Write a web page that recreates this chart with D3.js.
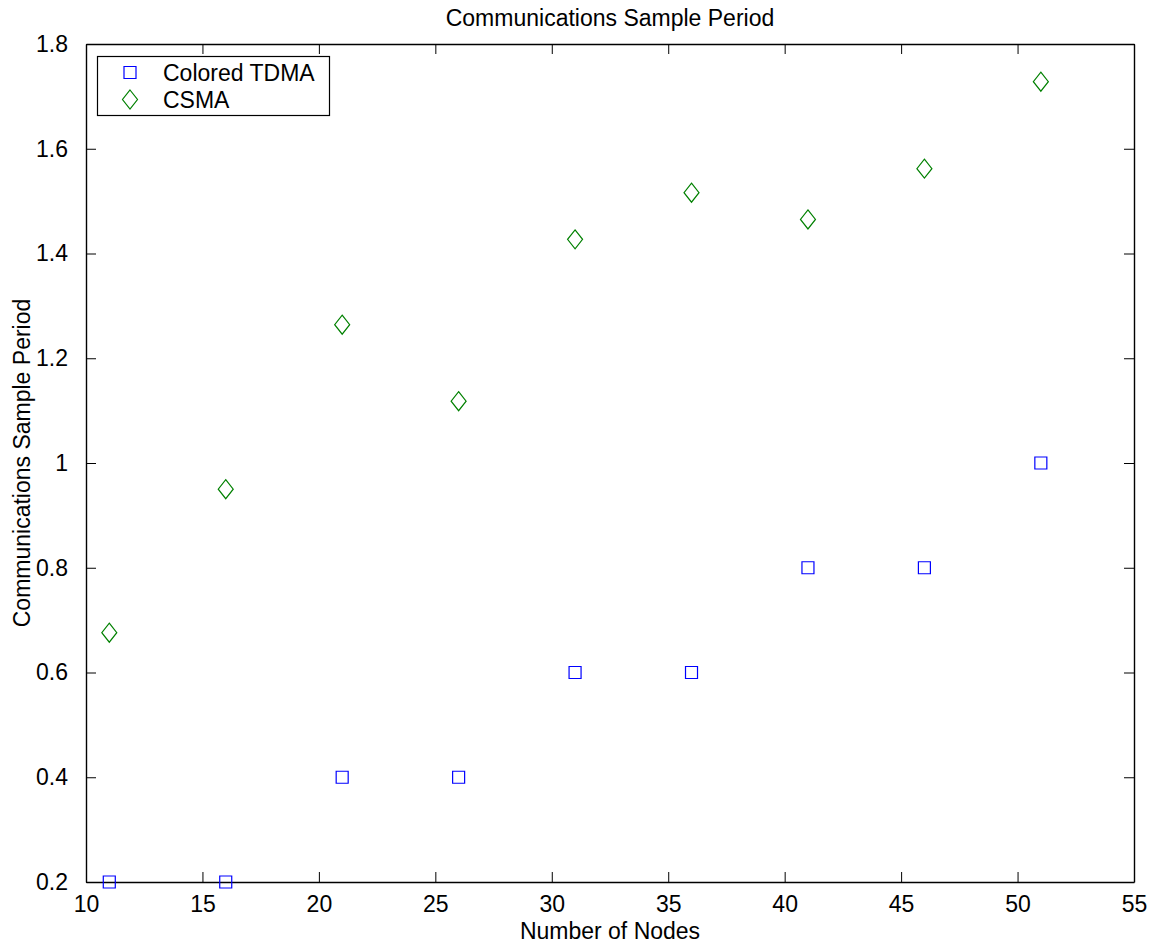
<!DOCTYPE html>
<html>
<head>
<meta charset="utf-8">
<script src="https://cdn.jsdelivr.net/npm/d3@7"></script>
<style>
  html, body { margin: 0; padding: 0; background: #fff; }
  svg text { font-family: "Liberation Sans", Arial, Helvetica, sans-serif; fill: #000; }
</style>
</head>
<body>
<svg id="chart" width="1157" height="947"></svg>
<script>
// Number of nodes in each run
const nodes = [11, 16, 21, 26, 31, 36, 41, 46, 51];
// Communications sample period per protocol
const tdmaPeriod = [0.2, 0.2, 0.4, 0.4, 0.6, 0.6, 0.8, 0.8, 1.0];
const csmaPeriod = [0.676, 0.950, 1.264, 1.118, 1.427, 1.516, 1.465, 1.562, 1.728];
// Axis ticks
const xTicks = [10, 15, 20, 25, 30, 35, 40, 45, 50, 55];
const yTicks = [0.2, 0.4, 0.6, 0.8, 1.0, 1.2, 1.4, 1.6, 1.8];
const seriesNames = ["Colored TDMA", "CSMA"];

const svg = d3.select("#chart");
const plotLeft = 86, plotRight = 1134, plotTop = 44, plotBottom = 882;
const fontSize = 23;

const x = d3.scaleLinear().domain([10, 55]).range([plotLeft, plotRight]);
const y = d3.scaleLinear().domain([0.2, 1.8]).range([plotBottom, plotTop]);

const fmtY = d => (d === 1 ? "1" : d3.format(".1f")(d));

// Axes box with inward ticks on all four sides
const axisStyle = g => {
  g.selectAll("path.domain").attr("stroke", "#000").attr("stroke-width", 1.4);
  g.selectAll(".tick line").attr("stroke", "#000").attr("stroke-width", 1);
};

svg.append("g")
  .attr("transform", `translate(0,${plotBottom})`)
  .call(d3.axisBottom(x).tickValues(xTicks).tickSizeInner(-10).tickSizeOuter(0).tickPadding(14))
  .call(axisStyle)
  .call(g => g.selectAll("text").attr("font-size", fontSize).attr("dy", "0.71em"));

svg.append("g")
  .attr("transform", `translate(0,${plotTop})`)
  .call(d3.axisTop(x).tickValues(xTicks).tickSizeInner(-10).tickSizeOuter(0).tickFormat(""))
  .call(axisStyle);

svg.append("g")
  .attr("transform", `translate(${plotLeft},0)`)
  .call(d3.axisLeft(y).tickValues(yTicks).tickSizeInner(-10).tickSizeOuter(0).tickPadding(18).tickFormat(fmtY))
  .call(axisStyle)
  .call(g => g.selectAll("text").attr("font-size", fontSize));

svg.append("g")
  .attr("transform", `translate(${plotRight},0)`)
  .call(d3.axisRight(y).tickValues(yTicks).tickSizeInner(-10).tickSizeOuter(0).tickFormat(""))
  .call(axisStyle);

// Title and axis labels
svg.append("text")
  .attr("x", (plotLeft + plotRight) / 2).attr("y", 26)
  .attr("text-anchor", "middle").attr("font-size", fontSize)
  .text("Communications Sample Period");

svg.append("text")
  .attr("x", (plotLeft + plotRight) / 2).attr("y", 939)
  .attr("text-anchor", "middle").attr("font-size", fontSize)
  .text("Number of Nodes");

svg.append("text")
  .attr("transform", `translate(30,${(plotTop + plotBottom) / 2}) rotate(-90)`)
  .attr("text-anchor", "middle").attr("font-size", fontSize)
  .text("Communications Sample Period");

// Marker shapes
const squarePath = (cx, cy) => {
  const h = 6;
  return `M${cx - h},${cy - h}H${cx + h}V${cy + h}H${cx - h}Z`;
};
const diamondPath = (cx, cy) => {
  const w = 7.5, h = 9.5;
  return `M${cx},${cy - h}L${cx + w},${cy}L${cx},${cy + h}L${cx - w},${cy}Z`;
};

const tdmaColor = "#0000ff", csmaColor = "#008000";

svg.append("g").selectAll("path")
  .data(nodes.map((n, i) => [n, tdmaPeriod[i]]))
  .join("path")
  .attr("d", d => squarePath(x(d[0]), y(d[1])))
  .attr("fill", "none").attr("stroke", tdmaColor).attr("stroke-width", 1.2);

svg.append("g").selectAll("path")
  .data(nodes.map((n, i) => [n, csmaPeriod[i]]))
  .join("path")
  .attr("d", d => diamondPath(x(d[0]), y(d[1])))
  .attr("fill", "none").attr("stroke", csmaColor).attr("stroke-width", 1.2);

// Legend
const legend = svg.append("g");
legend.append("rect")
  .attr("x", 97.5).attr("y", 56.5).attr("width", 232).attr("height", 59)
  .attr("fill", "#fff").attr("stroke", "#000").attr("stroke-width", 1.2);

legend.append("path").attr("d", squarePath(130, 72.5))
  .attr("fill", "none").attr("stroke", tdmaColor).attr("stroke-width", 1.2);
legend.append("path").attr("d", diamondPath(130, 99.5))
  .attr("fill", "none").attr("stroke", csmaColor).attr("stroke-width", 1.2);

legend.append("text").attr("x", 163).attr("y", 81).attr("font-size", fontSize).text(seriesNames[0]);
legend.append("text").attr("x", 163).attr("y", 107.5).attr("font-size", fontSize).text(seriesNames[1]);
</script>
</body>
</html>
